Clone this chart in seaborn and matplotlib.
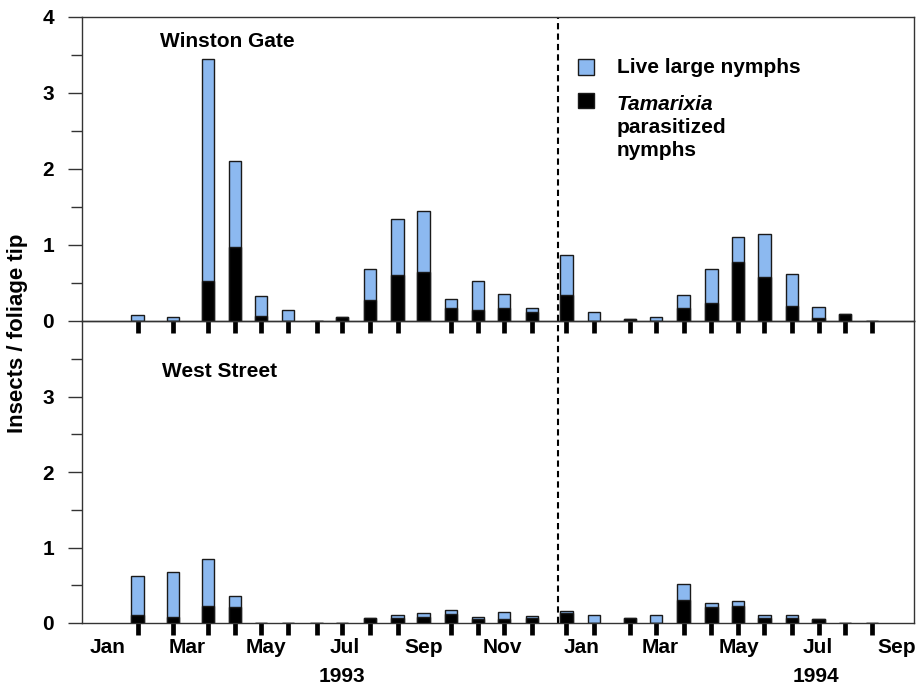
import numpy as np
import pandas as pd
import matplotlib
matplotlib.use("Agg")
import matplotlib.pyplot as plt
import seaborn as sns
from matplotlib.patches import Rectangle

# ---- data (x = months since start of Jan 1993) ----
sample_month = [0.75, 1.65, 2.53, 3.22, 3.88, 4.56, 5.29, 5.93, 6.64, 7.34,
                8.00, 8.69, 9.38, 10.04, 10.75, 11.62, 12.32, 13.23, 13.89,
                14.59, 15.29, 15.97, 16.64, 17.34, 18.01, 18.68, 19.37]

winston_live = [0.08, 0.05, 3.45, 2.10, 0.33, 0.15, 0.0, 0.05, 0.69, 1.34,
                1.45, 0.29, 0.53, 0.35, 0.17, 0.87, 0.12, 0.02, 0.05,
                0.34, 0.69, 1.10, 1.14, 0.62, 0.18, 0.09, 0.0]
winston_para = [0.0, 0.0, 0.53, 0.97, 0.07, 0.0, 0.0, 0.05, 0.27, 0.60,
                0.64, 0.17, 0.15, 0.17, 0.12, 0.34, 0.0, 0.02, 0.0,
                0.17, 0.24, 0.77, 0.58, 0.20, 0.04, 0.09, 0.0]

west_live = [0.62, 0.67, 0.85, 0.36, 0.0, 0.0, 0.0, 0.0, 0.07, 0.105,
             0.135, 0.17, 0.08, 0.15, 0.09, 0.16, 0.10, 0.07, 0.10,
             0.51, 0.26, 0.29, 0.10, 0.10, 0.05, 0.0, 0.0]
west_para = [0.105, 0.08, 0.22, 0.21, 0.0, 0.0, 0.0, 0.0, 0.07, 0.06,
             0.075, 0.12, 0.05, 0.05, 0.07, 0.13, 0.0, 0.07, 0.0,
             0.31, 0.21, 0.23, 0.06, 0.06, 0.05, 0.0, 0.0]

month_ticks = [0, 2, 4, 6, 8, 10, 12, 14, 16, 18, 20]
month_labels = ["Jan", "Mar", "May", "Jul", "Sep", "Nov",
                "Jan", "Mar", "May", "Jul", "Sep"]
year_pos = [5.93, 17.95]
year_labels = ["1993", "1994"]
year_break = 11.41
panel_titles = ["Winston Gate", "West Street"]

# ---- style ----
sns.set_style("ticks")
plt.rcParams["font.family"] = ["Liberation Sans", "DejaVu Sans"]
plt.rcParams["font.weight"] = "bold"
for k in ["text.color", "axes.labelcolor", "xtick.color", "ytick.color"]:
    plt.rcParams[k] = "black"

BLUE = "#8cb9f0"
EDGE = "#1a1a1a"
FS = 15

fig = plt.figure(figsize=(9.17, 6.86), dpi=100)
ax1 = fig.add_axes([82 / 917, 1 - 321 / 686, 832 / 917, 304 / 686])
ax2 = fig.add_axes([82 / 917, 1 - 623 / 686, 832 / 917, 302 / 686])
ax2.set_facecolor("none")

bar_w = 0.32
native = np.min(np.diff(np.unique(sample_month)))
rel_w = bar_w / native

for ax, live, para, title, ylab, tpos in [
        (ax1, winston_live, winston_para, panel_titles[0], [0, 1, 2, 3, 4], (0.094, 0.902)),
        (ax2, west_live, west_para, panel_titles[1], [0, 1, 2, 3], (0.096, 0.8156))]:
    df = pd.DataFrame({"m": sample_month, "live": live, "para": para})
    sns.barplot(data=df, x="m", y="live", native_scale=True, width=rel_w,
                color=BLUE, saturation=1, edgecolor=EDGE, linewidth=1.0,
                errorbar=None, ax=ax, zorder=2)
    sns.barplot(data=df, x="m", y="para", native_scale=True, width=rel_w,
                color="black", saturation=1, edgecolor=EDGE, linewidth=1.0,
                errorbar=None, ax=ax, zorder=3)
    ax.set_xlim(-0.66, 20.43)
    ax.set_ylim(0, 4)
    ax.set_xlabel("")
    ax.set_ylabel("")
    ax.set_yticks(ylab)
    ax.set_yticklabels([str(v) for v in ylab], fontsize=FS, fontweight="bold")
    ax.set_yticks([0.5, 1.5, 2.5, 3.5], minor=True)
    ax.tick_params(axis="y", which="major", length=10, width=1, pad=10,
                   color="#333333")
    ax.tick_params(axis="y", which="minor", length=8, width=1,
                   color="#333333")
    ax.set_xticks(sample_month, minor=True)
    ax.tick_params(axis="x", which="minor", length=8.5, width=3.4,
                   direction="out", color="black")
    for s in ax.spines.values():
        s.set_visible(True)
        s.set_linewidth(1.0)
        s.set_color("#333333")
    ax.axvline(year_break, color="black", linestyle=(0, (3, 2)),
               linewidth=1.5, zorder=1)
    ax.text(tpos[0], tpos[1], title, transform=ax.transAxes, fontsize=FS,
            fontweight="bold", va="baseline", ha="left")

ax1.set_xticks(month_ticks)
ax1.set_xticklabels([])
ax1.tick_params(axis="x", which="major", length=0)

ax2.set_xticks(month_ticks)
ax2.set_xticklabels(month_labels, fontsize=FS, fontweight="bold")
ax2.tick_params(axis="x", which="major", length=0, pad=11)

xt = ax2.get_xaxis_transform()
for p, lab in zip(year_pos, year_labels):
    ax2.text(p, -0.178, lab, transform=xt, ha="center", va="center",
             fontsize=FS, fontweight="bold")

# legend (drawn manually to match the layout)
ax1.add_patch(Rectangle((0.596, 0.809), 0.0192, 0.053, transform=ax1.transAxes,
                        facecolor=BLUE, edgecolor=EDGE, linewidth=1.0,
                        clip_on=False))
ax1.add_patch(Rectangle((0.596, 0.701), 0.0192, 0.050, transform=ax1.transAxes,
                        facecolor="black", edgecolor=EDGE, linewidth=1.0,
                        clip_on=False))
tx = 0.643
ax1.text(tx, 0.817, "Live large nymphs", transform=ax1.transAxes,
         fontsize=FS, fontweight="bold", va="baseline")
ax1.text(tx, 0.694, "Tamarixia", transform=ax1.transAxes, fontsize=FS,
         fontweight="bold", fontstyle="italic", va="baseline")
ax1.text(tx, 0.617, "parasitized", transform=ax1.transAxes, fontsize=FS,
         fontweight="bold", va="baseline")
ax1.text(tx, 0.543, "nymphs", transform=ax1.transAxes, fontsize=FS,
         fontweight="bold", va="baseline")

fig.text(18 / 917, 1 - 333 / 686, "Insects / foliage tip", rotation=90,
         ha="center", va="center", fontsize=16, fontweight="bold")

fig.savefig("out.png", dpi=100)
